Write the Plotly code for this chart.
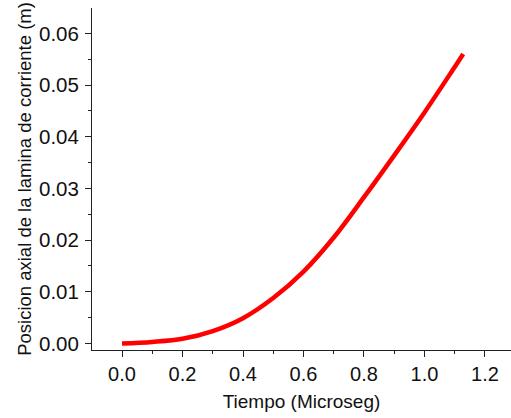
import plotly.graph_objects as go

tiempo = [0.0, 0.1, 0.2, 0.3, 0.4, 0.5, 0.6, 0.7, 0.8, 0.9, 1.0, 1.1, 1.128]
posicion = [0.0, 0.0003, 0.0009, 0.0024, 0.0049, 0.0088, 0.0139, 0.0205, 0.0283, 0.0364, 0.0447, 0.0535, 0.0560]

fig = go.Figure()
fig.add_trace(go.Scatter(x=tiempo, y=posicion, mode="lines",
                         line=dict(color="#ff0000", width=4.5, shape="spline", smoothing=1.0),
                         showlegend=False))

font = "Liberation Sans, Arial, sans-serif"
fig.update_layout(
    width=511, height=418,
    margin=dict(l=92, r=0, t=8, b=68),
    paper_bgcolor="white", plot_bgcolor="white",
    font=dict(family=font, color="#111111"),
)
fig.update_xaxes(
    range=[-0.0992, 1.286], dtick=0.2, tick0=0, tickformat=".1f",
    showgrid=False, zeroline=False, showline=True, linecolor="#222222", linewidth=1,
    ticks="outside", ticklen=6, tickwidth=1, tickcolor="#222222",
    minor=dict(dtick=0.1, tick0=0, ticks="outside", ticklen=3, tickcolor="#222222", showgrid=False),
    tickfont=dict(size=20),
    title=dict(text="Tiempo (Microseg)", font=dict(size=19), standoff=10),
)
fig.update_yaxes(
    range=[-0.00126, 0.0649], dtick=0.01, tick0=0, tickformat=".2f",
    showgrid=False, zeroline=False, showline=True, linecolor="#222222", linewidth=1,
    ticks="outside", ticklen=6, tickwidth=1, tickcolor="#222222",
    minor=dict(dtick=0.005, tick0=0, ticks="outside", ticklen=3, tickcolor="#222222", showgrid=False),
    tickfont=dict(size=20.5), ticklabelstandoff=2,
    title=dict(text="Posicion axial de la lamina de corriente (m)", font=dict(size=18.5), standoff=2),
)
fig.write_html("out.html")
